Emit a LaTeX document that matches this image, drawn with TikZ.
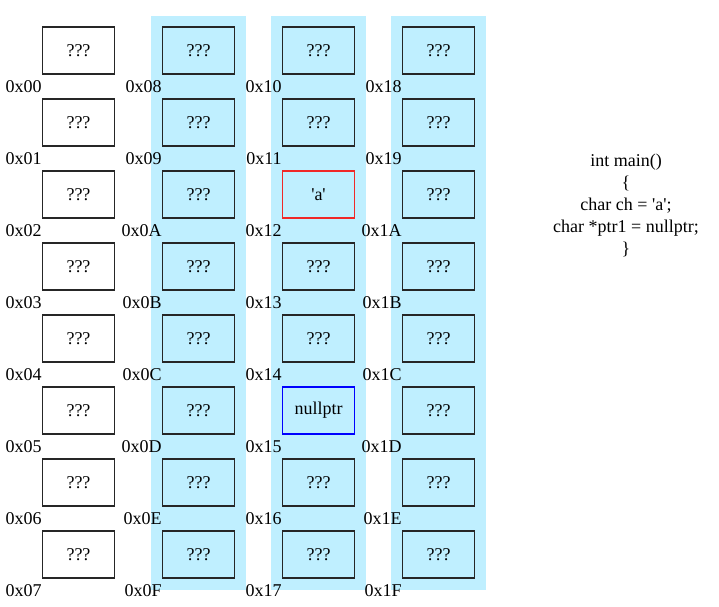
\documentclass[tikz,border=0pt]{standalone}
\usepackage{fontspec}
\setmainfont{Liberation Serif}
\usetikzlibrary{positioning}
\definecolor{colbg}{RGB}{191,239,255}
\definecolor{cellred}{RGB}{240,40,40}

\begin{document}
\begin{tikzpicture}[
     x = 0.75pt, y = -0.75pt,
every node/.style = {font=\fontsize{13.5}{16.5}\selectfont},
       cell/.style = {rectangle, draw=black!85, line width=0.8pt, inner sep=0pt,
                      minimum width=54pt, minimum height=35.25pt},
    redcell/.style = {cell, draw=cellred},
   bluecell/.style = {cell, draw=blue},
       addr/.style = {anchor=north east, inner sep=0pt, yshift=-4.5pt},
       code/.style = {align=center, inner sep=0pt}
                        ]
\useasboundingbox (0,0) rectangle (719,607);
% shaded columns
\foreach \c in {1,2,3}
  \fill[colbg] ({151+120*(\c-1)},16) rectangle ({246+120*(\c-1)},590);
% memory cells with their addresses
\foreach \c/\hi/\digits in {0/0/{0,1,2,3,4,5,6,7}, 1/0/{8,9,A,B,C,D,E,F},
                            2/1/{0,1,2,3,4,5,6,7}, 3/1/{8,9,A,B,C,D,E,F}}{
  \foreach \d [count=\r from 0] in \digits {
    \pgfmathtruncatemacro\k{\c*8+\r}
    \ifnum\k=18 \def\txt{\textquotesingle a\textquotesingle}\def\sty{redcell}%
    \else\ifnum\k=21 \def\txt{nullptr}\def\sty{bluecell}%
    \else \def\txt{???}\def\sty{cell}\fi\fi
    \node[\sty] (m\hi\d) at ({78.5+120*\c},{50.5+72*\r}) {\txt};
    \node[addr] (a\hi\d) at (m\hi\d.south west) {0x\hi\d};
  }
}
% source code
\node[code] (src) at (626,205) {int main()\\ \{\\ char ch = \textquotesingle a\textquotesingle;\\
  char *ptr1 = nullptr;\\ \}};
\end{tikzpicture}
\end{document}
